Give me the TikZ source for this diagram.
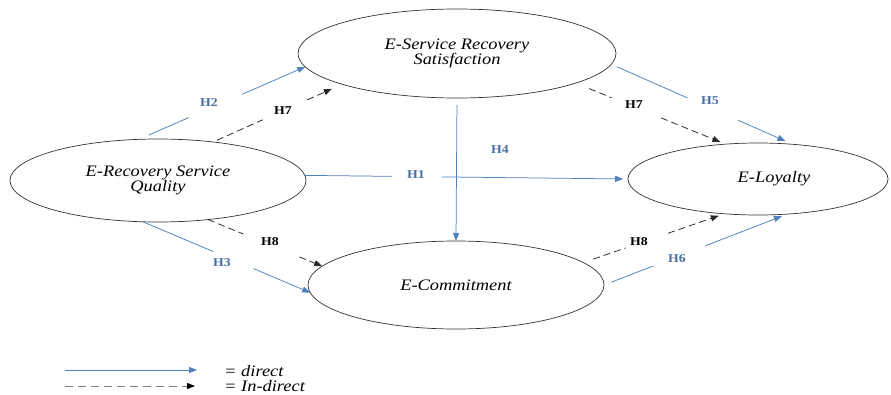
\documentclass[tikz,border=0pt]{standalone}
\usepackage{fontspec}
\setmainfont{Liberation Serif}
\newfontfamily\ef[FakeStretch=1.15]{Liberation Serif}
\usetikzlibrary{arrows.meta,shapes.geometric,calc}
\definecolor{dblue}{HTML}{4F81BD}
\definecolor{lblue}{HTML}{4A6FA5}
\definecolor{edgec}{HTML}{333333}
\begin{document}
\begin{tikzpicture}[x=1pt,y=-1pt,
  construct/.style={ellipse, draw=edgec, line width=0.7pt, inner sep=0pt, outer sep=0pt,
    font=\ef\itshape\fontsize{16}{15.5}\selectfont, align=center},
  dirl/.style={draw=dblue, line width=0.75pt, -{Triangle[length=8pt,width=6pt]}},
  indl/.style={draw=black!85, line width=0.75pt, dash pattern=on 7pt off 4pt, -{Triangle[length=8pt,width=6pt]}},
  hb/.style={font=\ef\bfseries\fontsize{12}{13}\selectfont, text=lblue, inner sep=1pt},
  hk/.style={hb, text=black},
  legt/.style={font=\ef\itshape\fontsize{16}{18}\selectfont, inner sep=0pt}]
\useasboundingbox (0,0) rectangle (891,394);
\fill[white] (0,0) rectangle (891,394);

% constructs
\node[construct, minimum width=296pt, minimum height=83pt] (A) at (158,180.5) {E-Recovery Service\\Quality};
\node[construct, minimum width=318pt, minimum height=89pt] (B) at (457,53.5) {E-Service Recovery\\Satisfaction};
\node[construct, minimum width=260pt, minimum height=72pt] (C) at (758,179) {\hspace*{32pt}E-Loyalty};
\node[construct, minimum width=296pt, minimum height=88pt] (D) at (456,285) {E-Commitment};

% direct paths
\draw[dirl] ($(A.115)!0.06!(B.185)$) -- ($(A.115)!0.30!(B.185)$) ($(A.115)!0.62!(B.185)$) -- (B.185);
\draw[dirl] (A.2) -- ($(A.2)!0.27!(C.180)$) ($(A.2)!0.424!(C.180)$) -- ($(A.2)!0.985!(C.180)$);
\draw[dirl] ($(B.270)!0.05!(D.90)$) -- (D.90);
\draw[dirl] ($(B.-4)!0.03!(C.45)$) -- ($(B.-4)!0.42!(C.45)$) ($(B.-4)!0.70!(C.45)$) -- ($(B.-4)!0.96!(C.45)$);
\draw[dirl] (A.-110) -- ($(A.-110)!0.42!(D.183)$) ($(A.-110)!0.66!(D.183)$) -- (D.183);
\draw[dirl] ($(D.0)!0.04!(C.-50)$) -- ($(D.0)!0.27!(C.-50)$) ($(D.0)!0.55!(C.-50)$) -- ($(D.0)!0.97!(C.-50)$);

% indirect paths
\draw[indl] ($(A.35)!0.03!(B.195)$) -- ($(A.35)!0.385!(B.195)$) ($(A.35)!0.73!(B.195)$) -- ($(A.35)!0.92!(B.195)$);
\draw[indl] ($(B.-14)!0.09!(C.133)$) -- ($(B.-14)!0.24!(C.133)$) ($(B.-14)!0.57!(C.133)$) -- ($(B.-14)!0.966!(C.133)$);
\draw[indl] (A.-38) -- ($(A.-38)!0.31!(D.172)$) ($(A.-38)!0.80!(D.172)$) -- (D.172);
\draw[indl] ($(D.10)!0.07!(C.-134)$) -- ($(D.10)!0.30!(C.-134)$) ($(D.10)!0.60!(C.-134)$) -- ($(D.10)!0.96!(C.-134)$);

% labels
\node[hb] (h2) at (209,103) {H2};
\node[hk] (h7a) at (283,111) {H7};
\node[hb] (h1) at (416,175) {H1};
\node[hb] (h4) at (500,150) {H4};
\node[hb] (h5) at (710,101) {H5};
\node[hk] (h7b) at (634,105) {H7};
\node[hb] (h3) at (222,263) {H3};
\node[hk] (h8a) at (270,242) {H8};
\node[hk] (h8b) at (639,242) {H8};
\node[hb] (h6) at (677,259) {H6};

% legend
\coordinate (l1s) at (65,370);
\coordinate (l1e) at (197,370);
\coordinate (l2s) at (65,386);
\coordinate (l2e) at (195,386);
\draw[dirl] (l1s) -- (l1e);
\draw[line width=0.8pt, draw=black!50, dash pattern=on 8pt off 5pt, -{Triangle[length=8pt,width=6pt,color=black]}] (l2s) -- (l2e);
\node[legt, anchor=west] (ld) at (224,371) {= direct};
\node[legt, anchor=west] (li) at (224,386) {= In-direct};
\end{tikzpicture}
\end{document}
